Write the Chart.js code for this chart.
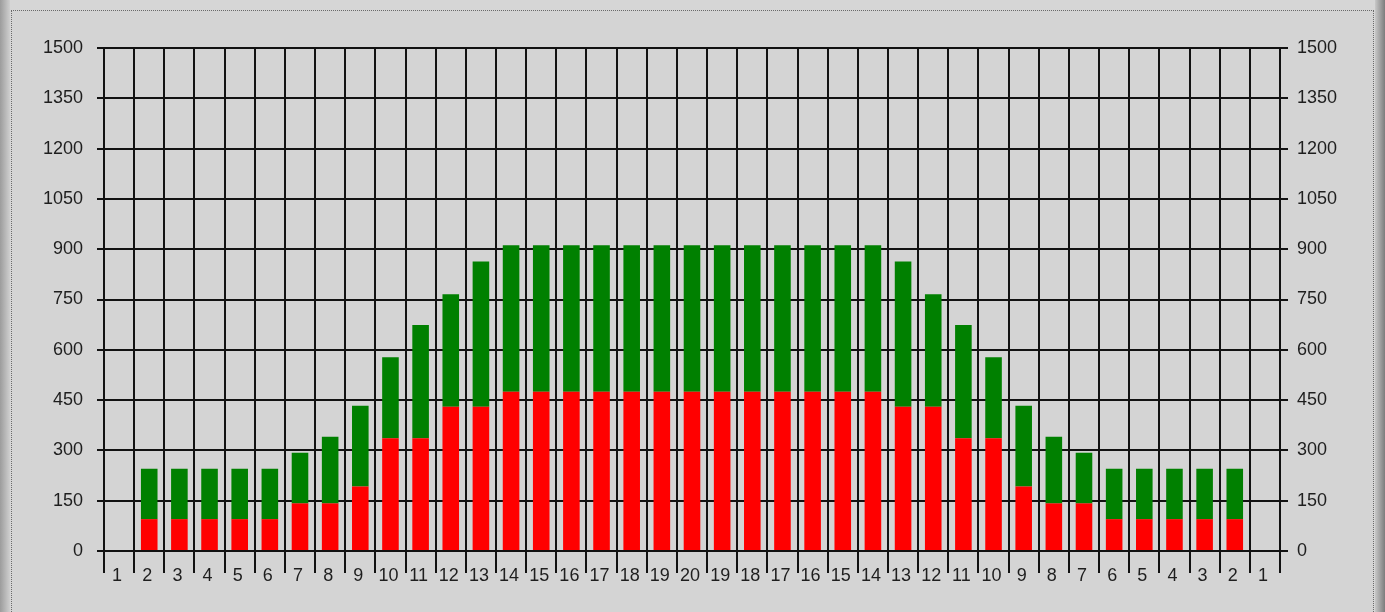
<!DOCTYPE html>
<html>
<head>
<meta charset="utf-8">
<title>bar chart</title>
<script src="https://cdn.jsdelivr.net/npm/chart.js@4/dist/chart.umd.min.js"></script>
<style>
  html, body { margin: 0; padding: 0; }
  body {
    width: 1385px; height: 612px; overflow: hidden; position: relative;
    background: #d6d6d6;
  }
  /* window edges: darker strips on left and right */
  #edgeL { position: absolute; left: 0; top: 0; width: 10px; height: 612px;
    background: linear-gradient(to right, #9c9c9c, #cfcfcf); }
  #edgeR { position: absolute; right: 0; top: 0; width: 10px; height: 612px;
    background: linear-gradient(to right, #c8c8c8, #7c7c7c); }
  #frame { position: absolute; left: 11px; top: 10px; width: 1361px; height: 620px;
    border: 1px dotted #6a6a6a; background: #d4d4d4; }
  #chart { position: absolute; left: 0; top: 0; }
</style>
</head>
<body>
<div id="edgeL"></div>
<div id="edgeR"></div>
<div id="frame"></div>
<canvas id="chart" width="1385" height="612"></canvas>
<script>
(function(){
  // categories: 1..20 then back down to 1
  const labels = ['1','2','3','4','5','6','7','8','9','10','11','12','13','14','15','16','17','18','19','20',
                  '19','18','17','16','15','14','13','12','11','10','9','8','7','6','5','4','3','2','1'];

  // lower (red) segment
  const redVals = [0, 95, 95, 95, 95, 95, 142, 142, 192, 336, 336, 430, 430,
                   475, 475, 475, 475, 475, 475, 475, 475, 475, 475, 475, 475, 475,
                   430, 430, 336, 336, 192, 142, 142, 95, 95, 95, 95, 95, 0];

  // upper (green) segment, stacked on red
  const greenVals = [0, 150, 150, 150, 150, 150, 151, 199, 241, 242, 338, 336, 433,
                     437, 437, 437, 437, 437, 437, 437, 437, 437, 437, 437, 437, 437,
                     433, 336, 338, 242, 241, 199, 151, 150, 150, 150, 150, 150, 0];

  const yMin = 0, yMax = 1500, yStep = 150;

  const txt = '#1e1e1e';
  const line = '#121212';
  const font = { family: '"Liberation Sans", Arial, sans-serif', size: 18 };
  const plain = (v) => String(v); // no thousands separator

  const ctx = document.getElementById('chart').getContext('2d');
  new Chart(ctx, {
    type: 'bar',
    data: {
      labels: labels,
      datasets: [
        { label: 'red', data: redVals, backgroundColor: '#ff0000', stack: 's',
          barPercentage: 0.55, categoryPercentage: 1.0 },
        { label: 'green', data: greenVals, backgroundColor: '#008000', stack: 's',
          barPercentage: 0.55, categoryPercentage: 1.0 },
      ],
    },
    options: {
      responsive: false,
      animation: false,
      layout: { padding: { top: 48, left: 0, right: 0, bottom: 0 } },
      plugins: { legend: { display: false }, tooltip: { enabled: false } },
      scales: {
        x: {
          stacked: true,
          grid: { offset: true, color: line, lineWidth: 2, tickLength: 22, tickColor: line, tickWidth: 2 },
          border: { color: line, width: 2 },
          ticks: { color: txt, font: font, padding: -8, labelOffset: -2, autoSkip: false, maxRotation: 0 },
          afterFit: (s) => { s.height = 61; },
        },
        y: {
          stacked: true,
          min: yMin, max: yMax,
          position: 'left',
          grid: { color: line, lineWidth: 2, tickLength: 7, tickColor: line, tickWidth: 2 },
          border: { color: line, width: 2 },
          ticks: { stepSize: yStep, color: txt, font: font, padding: 14, callback: plain },
          afterFit: (s) => { s.width = 104; },
        },
        y1: {
          min: yMin, max: yMax,
          position: 'right',
          grid: { drawOnChartArea: false, color: line, lineWidth: 2, tickLength: 8, tickColor: line, tickWidth: 2 },
          border: { color: line, width: 2 },
          ticks: { stepSize: yStep, color: txt, font: font, padding: 9, callback: plain },
          afterFit: (s) => { s.width = 105; },
        },
      },
    },
  });
})();
</script>
</body>
</html>
